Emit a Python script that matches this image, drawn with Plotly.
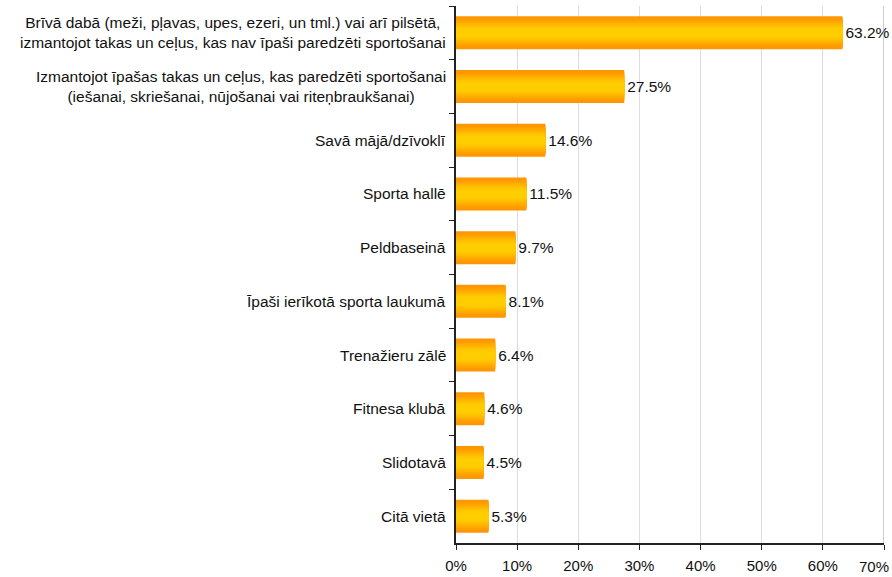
import plotly.graph_objects as go

# Where people do sport / physical activity (share of respondents, %)
categories = [
    "Brīvā dabā (meži, pļavas, upes, ezeri, un tml.) vai arī pilsētā,<br>izmantojot takas un ceļus, kas nav īpaši paredzēti sportošanai",
    "Izmantojot īpašas takas un ceļus, kas paredzēti sportošanai<br>(iešanai, skriešanai, nūjošanai vai riteņbraukšanai)",
    "Savā mājā/dzīvoklī",
    "Sporta hallē",
    "Peldbaseinā",
    "Īpaši ierīkotā sporta laukumā",
    "Trenažieru zālē",
    "Fitnesa klubā",
    "Slidotavā",
    "Citā vietā",
]
values = [63.2, 27.5, 14.6, 11.5, 9.7, 8.1, 6.4, 4.6, 4.5, 5.3]
x_ticks = [0, 10, 20, 30, 40, 50, 60, 70]

FONT = "Liberation Sans, Arial, sans-serif"
BAR_WIDTH = 0.615
EDGE = (255, 150, 0)    # orange at the bar edges
CENTER = (255, 205, 0)  # yellow along the bar middle
N_LAYERS = 18

fig = go.Figure()

# Vertical colour gradient: stacked overlaid bars that narrow toward the middle
for k in range(N_LAYERS):
    t = k / (N_LAYERS - 1)
    s = min(1.0, t * 1.15)
    s = s * s * (3 - 2 * s)
    col = tuple(round(EDGE[i] + (CENTER[i] - EDGE[i]) * s) for i in range(3))
    w = BAR_WIDTH * (1 - k / N_LAYERS)
    fig.add_trace(go.Bar(
        x=values,
        y=categories,
        orientation="h",
        width=w,
        marker=dict(color="rgb(%d,%d,%d)" % col, line=dict(width=0)),
        text=[f"{v:.1f}%" for v in values] if k == 0 else None,
        textposition="outside" if k == 0 else "none",
        constraintext="none",
        textfont=dict(family=FONT, size=15.5, color="#111111"),
        cliponaxis=False,
        hoverinfo="skip",
        showlegend=False,
    ))

# Category labels, centred line by line
for c in categories:
    fig.add_annotation(
        x=0, xref="paper", xanchor="right", xshift=-8,
        y=c, yref="y", yanchor="middle",
        text=c, showarrow=False, align="center",
        font=dict(family=FONT, size=15.5, color="#111111"),
    )

# The last tick label sits against the right edge of the page
fig.add_annotation(
    x=1, xref="paper", xanchor="right", xshift=7,
    y=0, yref="paper", yanchor="top", yshift=-13,
    text=f"{x_ticks[-1]}%", showarrow=False,
    font=dict(family=FONT, size=15, color="#111111"),
)

fig.update_layout(
    width=892, height=577,
    margin=dict(l=456, r=8, t=6, b=34, autoexpand=False),
    paper_bgcolor="white",
    plot_bgcolor="white",
    barmode="overlay",
    xaxis=dict(
        range=[0, 70],
        tickvals=x_ticks,
        ticktext=[f"{v}%" for v in x_ticks[:-1]] + [""],
        ticklabelstandoff=3,
        automargin=False,
        showgrid=True, gridcolor="#dcdcdc", gridwidth=1,
        showline=True, linecolor="#222222", linewidth=1.5,
        ticks="outside", ticklen=5, tickcolor="#222222",
        tickfont=dict(family=FONT, size=15, color="#111111"),
        zeroline=False, fixedrange=True,
    ),
    yaxis=dict(
        categoryorder="array", categoryarray=categories,
        autorange="reversed",
        automargin=False,
        showticklabels=False,
        showline=True, linecolor="#222222", linewidth=1.5,
        ticks="outside", ticklen=5, tickcolor="#222222",
        tickson="boundaries",
        showgrid=False, zeroline=False, fixedrange=True,
    ),
)

# Right-hand border at the 70% mark
fig.add_shape(type="line", xref="x", yref="paper", x0=70, x1=70, y0=0, y1=1,
              line=dict(color="#999999", width=1))

fig.write_html("out.html")
